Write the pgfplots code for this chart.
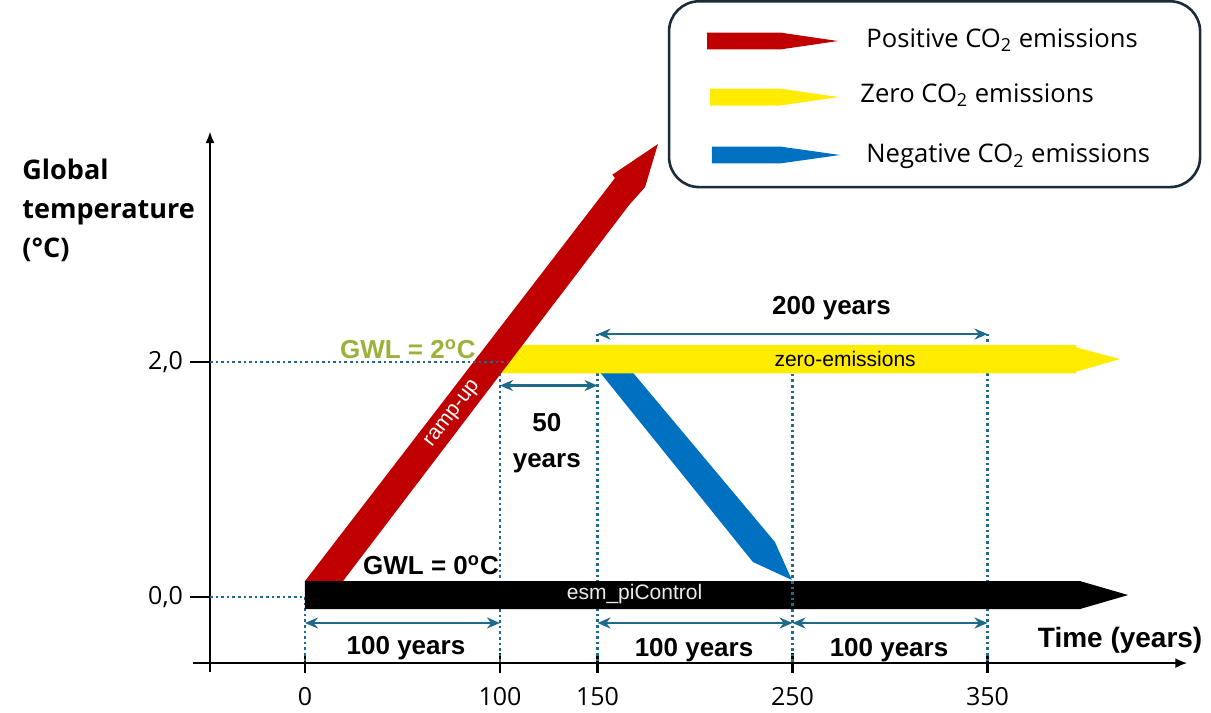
\documentclass[border=0pt]{standalone}
\usepackage{fontspec}
\setmainfont{Liberation Sans}
\newfontfamily\osans{Open Sans}
\usepackage{pgfplots}
\pgfplotsset{compat=1.18}
\usetikzlibrary{arrows.meta}

\definecolor{redc}{HTML}{C00000}
\definecolor{yelc}{HTML}{FFEC00}
\definecolor{bluec}{HTML}{0070C0}
\definecolor{dimc}{HTML}{1F6A8A}
\definecolor{gwlc}{HTML}{9CB03A}
\definecolor{legc}{HTML}{1C2B39}

\begin{document}
\begin{tikzpicture}[
  dots/.style={dimc, line width=1.4pt, dash pattern=on 1.3pt off 1.5pt},
  dim/.style={dimc, line width=1.2pt, arrows={Stealth[length=6.5pt,width=5.5pt]-Stealth[length=6.5pt,width=5.5pt]}},
  lab/.style={font=\bfseries\fontsize{13}{15.6}\selectfont},
]
\begin{axis}[
  x=0.975pt, y=58.75pt,
  xmin=-48.7, xmax=452.5, ymin=-0.562, ymax=3.966,
  axis x line=bottom, axis y line=left,
  axis line style={line width=1.4pt},
  x axis line style={-{Latex[length=6pt,width=5pt]}},
  y axis line style={-{Latex[length=6pt,width=4.5pt]}},
  xtick={0,100,150,250,350}, xticklabels={0,100,150,250,350},
  ytick={0,2}, yticklabels={{0,0},{2,0}},
  xtick align=center, ytick align=outside,
  major tick length=10pt,
  tick style={black, line width=1.4pt},
  ticklabel style={font=\osans\fontsize{12.5}{15}\selectfont},
  xticklabel style={yshift=-3.5pt},
  clip=false,
]
% picture frame
\path (axis cs:-156.4,-0.970) rectangle (axis cs:464.6,5.081);
% axis stubs
\draw[line width=1.4pt] (axis cs:-57.4,-0.562) -- (axis cs:-48.7,-0.562);
\draw[line width=1.4pt] (axis cs:-48.7,-0.562) -- (axis cs:-48.7,-0.64);

% guide lines
\addplot[dots] coordinates {(-48.7,0) (0,0)};
\addplot[dots] coordinates {(0,0) (0,-0.562)};
\addplot[dots] coordinates {(100,1.90) (100,-0.562)};
\addplot[dots] coordinates {(150,2.24) (150,-0.562)};
\addplot[dots] coordinates {(350,2.24) (350,-0.562)};

% negative emissions
\addplot[fill=bluec, draw=none] coordinates {(147,2.0) (163.6,2.0) (241.0,0.468) (249.7,0.145) (229.7,0.298)} -- cycle;
% zero emissions
\addplot[fill=yelc, draw=none] coordinates {(100,1.904) (100,2.145) (395.4,2.145) (395.4,2.126) (418,2.025) (395.4,1.917) (395.4,1.904)} -- cycle;
% ramp-up
\addplot[fill=redc, draw=none] coordinates {(0,0.136) (19.5,0.136) (166.2,3.336) (174.4,3.489) (181.0,3.855) (157.6,3.594) (158.97,3.566)} -- cycle;
% piControl
\addplot[fill=black, draw=none] coordinates {(0,-0.102) (0,0.136) (397.4,0.136) (422.1,0.017) (397.4,-0.102)} -- cycle;

\addplot[dots] coordinates {(-48.7,2) (104,2)};
\addplot[dots] coordinates {(250,1.90) (250,-0.562)};

% spans
\addplot[dim] coordinates {(0,-0.221) (100,-0.221)};
\addplot[dim] coordinates {(150,-0.221) (250,-0.221)};
\addplot[dim] coordinates {(250,-0.221) (350,-0.221)};
\addplot[dim] coordinates {(100,1.80) (150,1.80)};
\addplot[dim] coordinates {(150,2.238) (350,2.238)};

\node[lab] at (axis cs:51.8,-0.434) {100 years};
\node[lab] at (axis cs:199.5,-0.45) {100 years};
\node[lab] at (axis cs:299.5,-0.45) {100 years};
\node[lab, align=center, inner sep=0pt, font=\bfseries\fontsize{13}{18}\selectfont] at (axis cs:124,1.31) {50\\years};
\node[lab] at (axis cs:270,2.46) {200 years};
\node[lab, gwlc, inner sep=0pt] at (axis cs:52.8,2.11) {GWL = 2\textsuperscript{o}C};
\node[lab] at (axis cs:64.6,0.272) {GWL = 0\textsuperscript{o}C};
\node[font=\fontsize{10.5}{12}\selectfont, text=black!8] at (axis cs:169,0.025) {esm\_piControl};
\node[font=\fontsize{10.5}{12}\selectfont] at (axis cs:277,2.03) {zero-emissions};
\node[font=\fontsize{10.5}{12}\selectfont, text=white, inner sep=0pt, rotate=52.4] at (axis cs:75.9,1.557) {ramp-up};
\node[font=\bfseries\fontsize{14}{16}\selectfont] at (axis cs:418,-0.366) {Time (years)};
\node[anchor=west, align=left, inner sep=0pt, font=\osans\bfseries\fontsize{13.5}{19.5}\selectfont] at (axis cs:-145.1,3.294) {Global\\temperature\\(°C)};

% legend
\draw[legc, line width=1.3pt, rounded corners=15pt] (axis cs:186.7,3.489) rectangle (axis cs:459,5.070);
\addplot[fill=redc, draw=none] coordinates {(206.2,4.660) (206.2,4.804) (243.6,4.804) (273.3,4.732) (243.6,4.660)} -- cycle;
\addplot[fill=yelc, draw=none] coordinates {(207.7,4.183) (207.7,4.327) (243.6,4.327) (273.8,4.255) (243.6,4.183)} -- cycle;
\addplot[fill=bluec, draw=none] coordinates {(208.7,3.690) (208.7,3.834) (243.6,3.834) (274.4,3.762) (243.6,3.690)} -- cycle;
\node[anchor=west, inner sep=0pt, font=\osans\fontsize{12.8}{15}\selectfont] at (axis cs:287.7,4.74) {Positive CO\textsubscript{2} emissions};
\node[anchor=west, inner sep=0pt, font=\osans\fontsize{12.8}{15}\selectfont] at (axis cs:284.6,4.272) {Zero CO\textsubscript{2} emissions};
\node[anchor=west, inner sep=0pt, font=\osans\fontsize{12.8}{15}\selectfont] at (axis cs:287.7,3.753) {Negative CO\textsubscript{2} emissions};
\end{axis}
\end{tikzpicture}
\end{document}
